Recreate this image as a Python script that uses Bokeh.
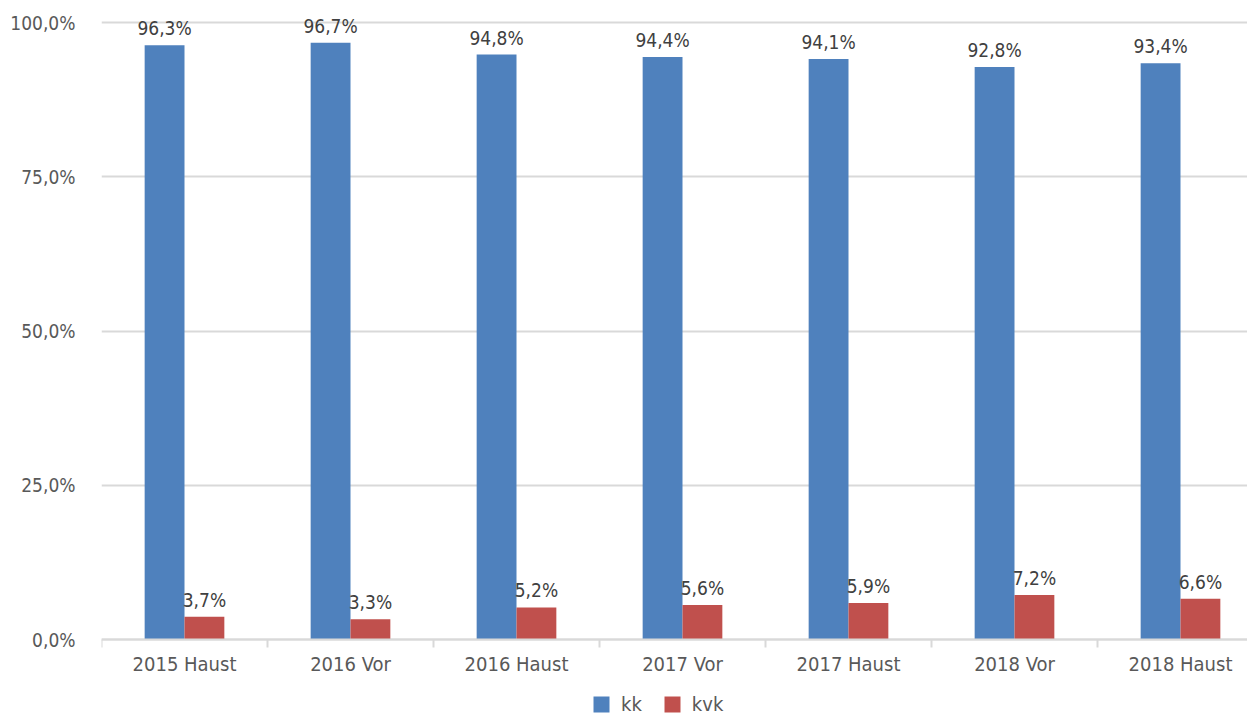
from bokeh.plotting import figure
from bokeh.models import Range1d, FixedTicker, ColumnDataSource, Legend, LegendItem
from bokeh.core.properties import value
from bokeh.embed import file_html
from bokeh.resources import INLINE

categories = ["2015 Haust", "2016 Vor", "2016 Haust", "2017 Vor", "2017 Haust", "2018 Vor", "2018 Haust"]
kk = [96.3, 96.7, 94.8, 94.4, 94.1, 92.8, 93.4]
kvk = [3.7, 3.3, 5.2, 5.6, 5.9, 7.2, 6.6]
y_ticks = [0, 25, 50, 75, 100]

FONT = "DejaVu Sans Condensed, DejaVu Sans, sans-serif"

n = len(categories)
centers = [i + 0.5 for i in range(n)]
bw = 0.24

def fmt(v):
    return ("%.1f%%" % v).replace(".", ",")

src_kk = ColumnDataSource(dict(x=[c - bw / 2 for c in centers], top=kk, lab=[fmt(v) for v in kk]))
src_kvk = ColumnDataSource(dict(x=[c + bw / 2 for c in centers], top=kvk, lab=[fmt(v) for v in kvk]))

# frame covers the whole visible page; 100% sits 22px from the top, 0% at 639px
PX = 617 / 100.0
p = figure(frame_width=1146, frame_height=716, output_backend="svg", toolbar_location=None,
           x_range=Range1d(0, 1146 / 166), y_range=Range1d(-(716 - 639) / PX, 100 + 22 / PX),
           min_border_left=101, min_border_top=0, min_border_right=0, min_border_bottom=0)
p.outline_line_color = None
p.background_fill_color = "white"
p.border_fill_color = "white"

r1 = p.vbar(x="x", top="top", bottom=0, width=bw, source=src_kk, fill_color="#4F81BD", line_color=None)
r2 = p.vbar(x="x", top="top", bottom=0, width=bw, source=src_kvk, fill_color="#C0504D", line_color=None)

p.text(x="x", y="top", text="lab", source=src_kk, text_align="center", text_baseline="bottom",
       y_offset=-6, text_font=value(FONT), text_font_size="19px", text_color="#404040")
p.text(x="x", y="top", text="lab", source=src_kvk, text_align="center", text_baseline="bottom",
       y_offset=-6, text_font=value(FONT), text_font_size="19px", text_color="#404040")

# x axis, drawn at the 0% line
p.xaxis.fixed_location = 0
p.xaxis.ticker = FixedTicker(ticks=centers, minor_ticks=list(range(n + 1)))
p.xaxis.major_label_overrides = {c: categories[i] for i, c in enumerate(centers)}
p.xaxis.major_tick_line_color = None
p.xaxis.major_tick_out = 0
p.xaxis.major_tick_in = 0
p.xaxis.minor_tick_line_color = "#d9d9d9"
p.xaxis.minor_tick_line_width = 2
p.xaxis.minor_tick_out = 8
p.xaxis.minor_tick_in = 0
p.xaxis.axis_line_color = "#d9d9d9"
p.xaxis.axis_line_width = 2
p.xaxis.major_label_text_font = FONT
p.xaxis.major_label_text_font_size = "20px"
p.xaxis.major_label_text_color = "#595959"
p.xaxis.major_label_standoff = 4

# y axis
p.yaxis.ticker = FixedTicker(ticks=y_ticks)
p.yaxis.major_label_overrides = {t: fmt(t) for t in y_ticks}
p.yaxis.axis_line_color = None
p.yaxis.major_tick_line_color = None
p.yaxis.major_tick_out = 0
p.yaxis.major_tick_in = 0
p.yaxis.minor_tick_line_color = None
p.yaxis.major_label_text_font = FONT
p.yaxis.major_label_text_font_size = "19px"
p.yaxis.major_label_text_color = "#595959"
p.yaxis.major_label_standoff = 26

p.xgrid.grid_line_color = None
p.ygrid.ticker = FixedTicker(ticks=y_ticks)
p.ygrid.grid_line_color = "#d9d9d9"
p.ygrid.grid_line_width = 2

legend = Legend(items=[LegendItem(label="kk", renderers=[r1]), LegendItem(label="kvk", renderers=[r2])],
                orientation="horizontal", location=(490, 0), padding=0, margin=0,
                glyph_width=20, glyph_height=20, label_standoff=10, spacing=20,
                label_text_font=FONT, label_text_font_size="20px", label_text_color="#595959",
                border_line_color=None, background_fill_alpha=0)
p.add_layout(legend, "center")

open("out.html", "w").write(file_html(p, INLINE))
